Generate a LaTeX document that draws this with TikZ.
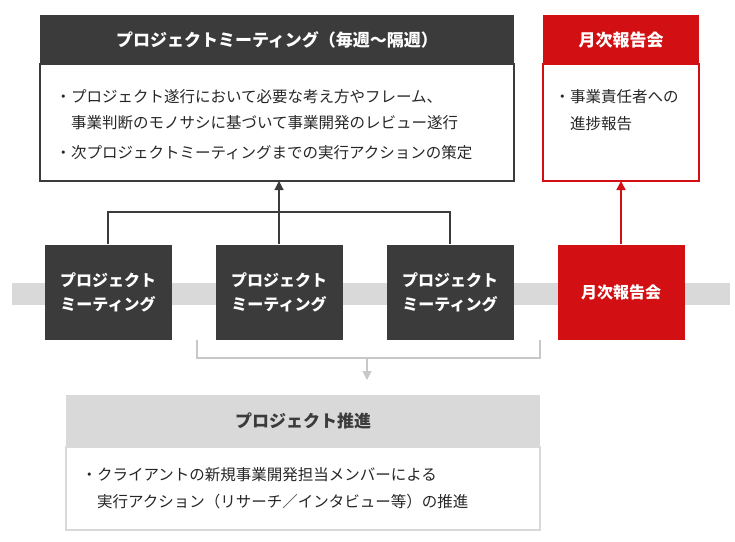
\documentclass[tikz,border=0pt]{standalone}
\usepackage{fontspec}
\newfontfamily\jp{Noto Sans CJK JP}
\usetikzlibrary{arrows.meta}
\definecolor{darkbox}{HTML}{3B3B3B}
\definecolor{redbox}{HTML}{D20F12}
\definecolor{band}{HTML}{D9D9D9}
\definecolor{lightline}{HTML}{C8C8C8}
\begin{document}
\begin{tikzpicture}[x=1pt,y=-1pt,
  every node/.style={font=\jp\fontsize{15.5}{22}\selectfont},
  meeting/.style={fill=darkbox,text=white,font=\jp\bfseries\fontsize{16}{24}\selectfont,align=center,minimum width=127pt,minimum height=95pt,inner sep=0pt},
  head/.style={font=\jp\bfseries\fontsize{17}{20}\selectfont},
  body/.style={align=left,anchor=west,text=black!85},
  tip/.style={-{Triangle[length=9pt,width=9pt]}}]
\useasboundingbox (0,0) rectangle (735,541);

% band
\fill[band] (12,283) rectangle (730,305);

% top left box
\fill[darkbox] (40,15) rectangle (514,64);
\draw[darkbox,line width=1.2pt] (40,64) rectangle (514,181);
\node[head,text=white] (pmhead) at (277,40) {プロジェクトミーティング（毎週〜隔週）};
\node[body] (pm1) at (52,97) {・プロジェクト遂行において必要な考え方やフレーム、};
\node[body] (pm2) at (52,123) {\hspace{15.5pt}事業判断のモノサシに基づいて事業開発のレビュー遂行};
\node[body] (pm3) at (52,153) {・次プロジェクトミーティングまでの実行アクションの策定};
\coordinate (pmbot) at (279,181);

% top right box
\fill[redbox] (543,15) rectangle (699,64);
\draw[redbox,line width=1.2pt] (543,64) rectangle (699,181);
\node[head,text=white] (rhead) at (621,40) {月次報告会};
\node[body] (r1) at (551,97) {・事業責任者への};
\node[body] (r2) at (551,124) {\hspace{15.5pt}進捗報告};
\coordinate (rbot) at (621,181);

% meetings
\node[meeting] (m1) at (108,292) {プロジェクト\\ミーティング};
\node[meeting] (m2) at (279,292) {プロジェクト\\ミーティング};
\node[meeting] (m3) at (450,292) {プロジェクト\\ミーティング};
\node[meeting,fill=redbox] (mr) at (621,292) {月次報告会};

% upper connector
\draw[darkbox,line width=1.2pt] (m1.north) |- (279,212) -| (m3.north);
\draw[darkbox,line width=1.2pt,tip] (m2.north) -- (pmbot);
\draw[redbox,line width=1.5pt,tip] (mr.north) -- (rbot);

% lower connector
\coordinate (lo) at (367,358);
\coordinate (la) at (197,340);
\coordinate (lb) at (540,340);
\draw[lightline,line width=1.2pt] (la) |- (lo) -| (lb);

% bottom box
\fill[band] (66,395) rectangle (540,447);
\draw[band,line width=1.2pt] (66,447) rectangle (540,530);
\node[head,text=darkbox] (phead) at (303,421) {プロジェクト推進};
\draw[lightline,line width=1.2pt,tip] (lo) -- (367,380);
\node[body] (p1) at (78,475) {・クライアントの新規事業開発担当メンバーによる};
\node[body] (p2) at (78,502) {\hspace{15.5pt}実行アクション（リサーチ／インタビュー等）の推進};
\end{tikzpicture}
\end{document}
